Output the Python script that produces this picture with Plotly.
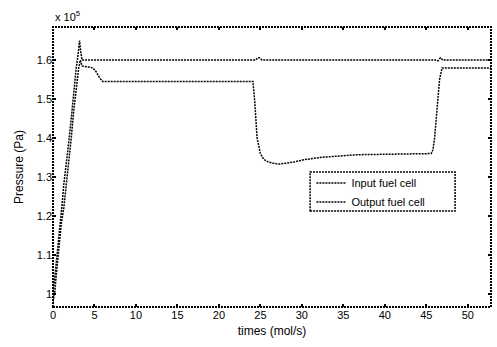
import plotly.graph_objects as go

# Input fuel cell pressure (x 1e5 Pa) against time
t_in = [0, 0.1, 0.3, 0.5, 0.7, 0.9, 1.1, 1.3, 1.6, 1.9, 2.2, 2.4, 2.6, 2.8, 3.0, 3.2,
        3.35, 3.5, 3.7, 24.4, 24.7, 24.9, 25.2, 46.1, 46.4, 46.7, 47.0, 53]
p_in = [0.98, 1.02, 1.06, 1.10, 1.14, 1.19, 1.23, 1.28, 1.33, 1.39, 1.45, 1.50, 1.54,
        1.58, 1.61, 1.65, 1.62, 1.60, 1.60, 1.60, 1.606, 1.606, 1.60, 1.60, 1.598,
        1.606, 1.60, 1.60]

# Output fuel cell pressure (x 1e5 Pa) against time
t_out = [0, 0.2, 0.4, 0.6, 0.8, 1.0, 1.3, 1.6, 1.9, 2.2, 2.5, 2.8, 3.1, 3.3, 3.5, 4.8,
         5.2, 5.6, 6.0, 24.1, 24.3, 24.6, 25.0, 25.4, 26.0, 26.6, 27.2, 28.0, 29.0,
         30.2, 32.2, 36.6, 45.6, 45.8, 46.0, 46.2, 46.4, 46.6, 46.9, 53]
p_out = [0.98, 1.00, 1.05, 1.09, 1.13, 1.18, 1.22, 1.28, 1.33, 1.40, 1.47, 1.53, 1.58,
         1.60, 1.585, 1.58, 1.57, 1.555, 1.545, 1.545, 1.50, 1.40, 1.36, 1.345, 1.338,
         1.335, 1.333, 1.335, 1.338, 1.344, 1.350, 1.357, 1.360, 1.37, 1.40, 1.45,
         1.50, 1.55, 1.58, 1.58]

x_ticks = [0, 5, 10, 15, 20, 25, 30, 35, 40, 45, 50]
y_ticks = [1.0, 1.1, 1.2, 1.3, 1.4, 1.5, 1.6]
y_labels = ["1", "1.1", "1.2", "1.3", "1.4", "1.5", "1.6"]

DASH = "2px,1px"
FONT = "Liberation Sans, Arial, sans-serif"

fig = go.Figure()
fig.add_trace(go.Scatter(x=t_in, y=p_in, mode="lines", name="Input fuel cell",
                         line=dict(color="black", width=1.5, dash=DASH)))
fig.add_trace(go.Scatter(x=t_out, y=p_out, mode="lines", name="Output fuel cell",
                         line=dict(color="black", width=1.5, dash=DASH)))

axis_common = dict(showline=False, showgrid=False, zeroline=False, mirror="ticks",
                   ticks="inside", ticklen=3, tickwidth=2, tickcolor="black",
                   tickfont=dict(family=FONT, size=11, color="black"))

fig.update_xaxes(range=[0, 52.8], tickvals=x_ticks, **axis_common,
                 title=dict(text="times (mol/s)", standoff=6,
                            font=dict(family=FONT, size=12, color="black")))
fig.update_yaxes(range=[0.966, 1.685], tickvals=y_ticks, ticktext=y_labels,
                 **axis_common,
                 title=dict(text="Pressure (Pa)", standoff=10,
                            font=dict(family=FONT, size=12, color="black")))

# dashed frame around the plotting area
fig.add_shape(type="rect", xref="paper", yref="paper", x0=0, y0=0, x1=1, y1=1,
              line=dict(color="black", width=2, dash=DASH))
# dashed box around the legend
fig.add_shape(type="rect", xref="paper", yref="paper", x0=0.587, y0=0.343,
              x1=0.918, y1=0.482, line=dict(color="black", width=1.5, dash=DASH))

fig.add_annotation(text="x 10<sup>5</sup>", xref="paper", yref="paper", x=0.0,
                   y=1.0, xanchor="left", yanchor="bottom", yshift=2, showarrow=False,
                   font=dict(family=FONT, size=11, color="black"))

fig.update_layout(
    width=497, height=347,
    margin=dict(l=53, r=6, t=27, b=40),
    plot_bgcolor="white", paper_bgcolor="white",
    showlegend=True,
    legend=dict(x=0.59, y=0.495, xanchor="left", yanchor="top",
                bgcolor="rgba(0,0,0,0)", borderwidth=0, tracegroupgap=0,
                itemwidth=30,
                font=dict(family=FONT, size=11, color="black")),
)

fig.write_html("out.html")
